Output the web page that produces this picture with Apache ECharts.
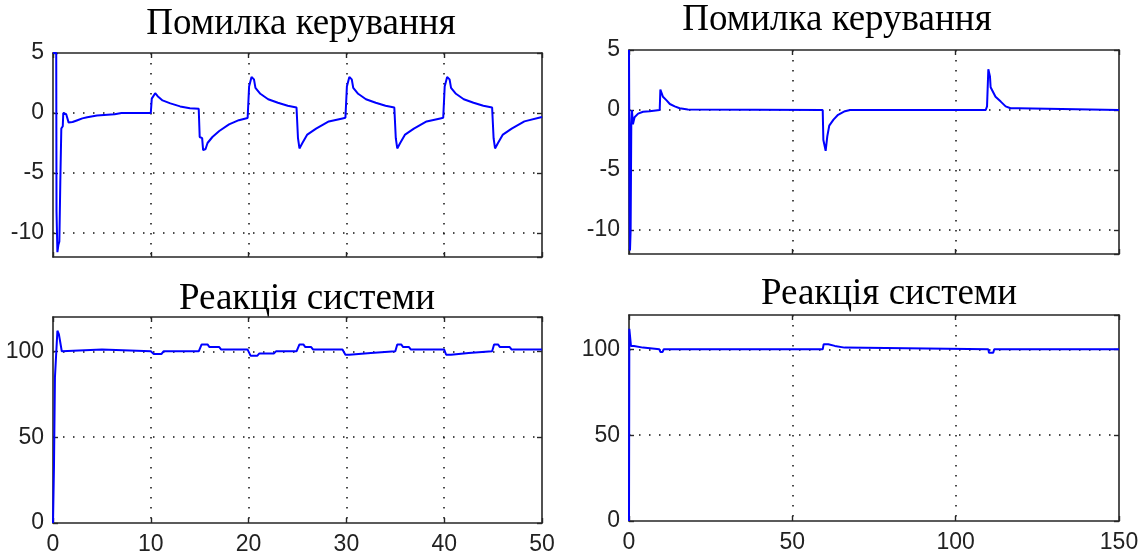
<!DOCTYPE html>
<html><head><meta charset="utf-8">
<script src="https://cdn.jsdelivr.net/npm/echarts@6/dist/echarts.min.js"></script>
<style>html,body{margin:0;padding:0;background:#fff}#c{width:1148px;height:557px}</style>
</head><body><div id="c"></div><script>
const titles = ['Помилка керування', 'Помилка керування', 'Реакція системи', 'Реакція системи'];

const errLeftT = [0,0.33,0.36,0.45,0.55,0.65,0.75,0.85,1.0,1.05,1.35,1.6,2.0,2.5,3.0,3.5,4.5,6.3,7.0,10.0,
  10.1,10.45,10.7,11.2,12.0,13.0,14.0,14.9,15.0,15.25,15.35,15.6,15.8,16.3,17.0,18.0,19.0,19.9,
  20.05,20.3,20.55,20.7,21.2,22.0,23.0,24.0,24.9,25.05,25.2,25.5,26.0,26.9,28.2,29.6,29.9,
  30.05,30.3,30.55,30.7,31.2,32.0,33.0,34.0,34.9,35.05,35.2,35.5,36.0,36.9,38.2,39.6,39.9,
  40.05,40.3,40.55,40.7,41.2,42.0,43.0,44.0,44.9,45.05,45.2,45.5,46.0,46.9,48.2,50.0];
const errLeftV = [5,5,-8.2,-11.6,-11.0,-10.7,-5.6,-1.3,-1.1,0,-0.1,-0.8,-0.75,-0.6,-0.45,-0.35,-0.2,-0.1,0,0,
  1.2,1.65,1.4,1.05,0.8,0.55,0.4,0.35,-2.0,-2.1,-3.1,-3.0,-2.5,-2.0,-1.5,-0.95,-0.6,-0.42,
  2.2,3.0,2.8,2.1,1.6,1.15,0.85,0.6,0.45,-2.1,-2.95,-2.5,-1.8,-1.3,-0.7,-0.45,-0.4,
  2.2,3.0,2.8,2.1,1.6,1.15,0.85,0.6,0.45,-2.1,-2.95,-2.5,-1.8,-1.3,-0.7,-0.45,-0.4,
  2.2,3.0,2.8,2.1,1.6,1.15,0.85,0.6,0.45,-2.1,-2.95,-2.5,-1.8,-1.3,-0.7,-0.33];

const errRightT = [0,0.15,0.2,0.3,0.5,0.7,0.9,1.2,1.7,2.8,4.3,6.3,9.4,9.6,10.4,11.5,12.5,14.0,15.5,18.0,18.5,
  59.3,59.5,60.2,60.7,61.3,62.6,64.0,66.1,67.7,109.2,109.6,110.0,110.5,110.7,111.2,112.2,113.8,115.3,116.8,119.2,119.4,150];
const errRightV = [5,5,-8.5,-11.7,-10.0,-1.2,0,-1.2,-0.6,-0.3,-0.15,-0.1,0,1.7,1.1,0.8,0.5,0.3,0.15,0.05,0,
  0,-2.5,-3.4,-2.2,-1.3,-0.8,-0.4,-0.1,0,0,0.3,3.4,2.8,1.9,1.8,1.1,0.7,0.3,0.15,0.15,0,0];

const respLeftT = [0,0.05,0.1,0.15,0.2,0.35,0.45,0.6,0.75,0.9,1.1,5.0,5.1,10.0,10.3,11.1,11.3,14.9,15.2,15.8,16.0,17.0,17.2,19.9,
  20.2,20.9,21.1,22.6,22.8,24.9,25.2,25.6,25.8,26.4,26.6,29.6,29.9,30.3,30.5,32.5,32.7,35.0,35.2,35.6,35.8,36.4,36.6,
  40.0,40.2,40.7,40.9,42.5,42.7,44.9,45.1,45.5,45.7,46.7,46.9,50];
const respLeftV = [0,0,33,33,85,85,112,110,105,100,101,101,100,100,98.5,98.5,100,100,104,104,102.5,102.5,101,101,
  97.5,97.5,98.8,98.8,100,100,104,104,102.5,102.5,101,101,98,98,99,99,100,100,104,104,102.5,102.5,101,
  101,98,98,99,99,100,100,104,104,102.5,102.5,101,101];

const respRightT = [0,0.1,0.4,0.6,1.5,1.6,4.3,4.5,9.3,9.6,10.3,10.6,59.3,59.6,61.0,61.3,63.0,63.3,66.0,66.3,110.0,110.2,111.5,111.8,150];
const respRightV = [0,112,112,102,102,101,101,100,100,98.5,98.5,100,100,103,103,102,102,101,101,100,100,98,98,100,100];

const xTicksLeft = [0, 10, 20, 30, 40, 50];
const xTicksRight = [0, 50, 100, 150];

const grids = [
  {left: 53, top: 53, width: 489, height: 204},
  {left: 629, top: 50, width: 490, height: 204},
  {left: 53, top: 317, width: 489, height: 206},
  {left: 629, top: 315, width: 490, height: 206}
];

const AX = '#262626';
const labelFont = {fontFamily: 'Liberation Sans', fontSize: 23, color: '#222'};
const dotted = {color: '#111', width: 1.5, type: [1.5, 8.5]};

function pairs(t, v) { return t.map((x, i) => [x, v[i]]); }

const xAxes = [], yAxes = [], series = [];
const specs = [
  {xmax: xTicksLeft[xTicksLeft.length-1], xint: xTicksLeft[1]-xTicksLeft[0], top: true, data: pairs(errLeftT, errLeftV)},
  {xmax: xTicksRight[xTicksRight.length-1], xint: xTicksRight[1]-xTicksRight[0], top: true, data: pairs(errRightT, errRightV)},
  {xmax: xTicksLeft[xTicksLeft.length-1], xint: xTicksLeft[1]-xTicksLeft[0], top: false, data: pairs(respLeftT, respLeftV)},
  {xmax: xTicksRight[xTicksRight.length-1], xint: xTicksRight[1]-xTicksRight[0], top: false, data: pairs(respRightT, respRightV)}
];

specs.forEach((s, i) => {
  const axLine = {show: true, onZero: false, lineStyle: {color: AX, width: 1.6}};
  const tick = {show: true, inside: true, length: 5, lineStyle: {color: AX, width: 1.4}};
  const xBase = {type: 'value', gridIndex: i, min: 0, max: s.xmax, interval: s.xint};
  xAxes.push(Object.assign({}, xBase, {
    position: 'bottom', axisLine: axLine, axisTick: tick,
    axisLabel: Object.assign({show: !s.top, margin: 10}, labelFont),
    splitLine: {show: true, showMinLine: false, showMaxLine: false, lineStyle: dotted}
  }));
  xAxes.push(Object.assign({}, xBase, {
    position: 'top', axisLine: axLine, axisTick: tick,
    axisLabel: {show: false}, splitLine: {show: false}
  }));
  const yBase = s.top
    ? {type: 'value', gridIndex: i, min: -12, max: 5, splitNumber: 4, minInterval: 5, maxInterval: 5}
    : {type: 'value', gridIndex: i, min: 0, max: 120, interval: 50};
  yAxes.push(Object.assign({}, yBase, {
    position: 'left', axisLine: axLine, axisTick: tick,
    axisLabel: Object.assign({show: true, margin: 9, showMinLabel: !s.top, showMaxLabel: s.top}, labelFont),
    splitLine: {show: true, showMinLine: false, showMaxLine: false, lineStyle: dotted}
  }));
  yAxes.push(Object.assign({}, yBase, {
    position: 'right', axisLine: axLine, axisTick: tick,
    axisLabel: {show: false}, splitLine: {show: false}
  }));
  series.push({
    type: 'line', xAxisIndex: i * 2, yAxisIndex: i * 2, data: s.data,
    showSymbol: false, symbol: 'none', clip: true,
    lineStyle: {color: '#0000ff', width: 2}, z: 5
  });
});

const titlePos = [[301, 24], [837, 20], [307, 299], [889, 294]];
const graphic = titles.map((t, i) => ({
  type: 'text', x: titlePos[i][0], y: titlePos[i][1], z: 10,
  style: {text: t, font: '37px "Liberation Serif"', fill: '#000',
    align: 'center', verticalAlign: 'middle', textAlign: 'center', textVerticalAlign: 'middle'}
}));

const chart = echarts.init(document.getElementById('c'), null, {renderer: 'canvas'});
chart.setOption({
  animation: false,
  backgroundColor: '#fff',
  grid: grids,
  xAxis: xAxes,
  yAxis: yAxes,
  series: series,
  graphic: graphic
});
</script></body></html>
